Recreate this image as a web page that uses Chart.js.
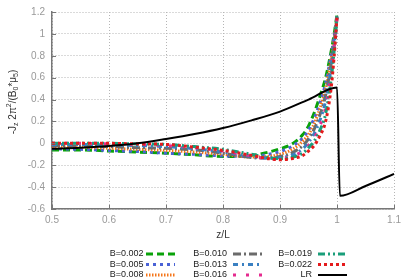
<!DOCTYPE html>
<html>
<head>
<meta charset="utf-8">
<script src="https://cdn.jsdelivr.net/npm/chart.js@4.4.1/dist/chart.umd.min.js"></script>
<style>
  html, body { margin: 0; padding: 0; background: #fff; }
</style>
</head>
<body>
<canvas id="currentChart" width="407" height="280"></canvas>
<script>
// z/L sample points shared by the B curves
const zPoints = [0.5, 0.55, 0.6, 0.65, 0.7, 0.75, 0.8, 0.85, 0.88, 0.9, 0.92, 0.94, 0.95, 0.96, 0.97, 0.98, 0.99, 0.995, 1.0];

const jB002 = [-0.06, -0.06, -0.07, -0.08, -0.09, -0.105, -0.12, -0.11, -0.08, -0.05, -0.01, 0.08, 0.16, 0.28, 0.43, 0.6, 0.85, 1.0, 1.18];
const jB005 = [-0.05, -0.055, -0.065, -0.075, -0.09, -0.1, -0.115, -0.12, -0.1, -0.075, -0.03, 0.05, 0.12, 0.23, 0.37, 0.55, 0.82, 0.98, 1.17];
const jB008 = [-0.03, -0.035, -0.045, -0.055, -0.065, -0.08, -0.1, -0.125, -0.12, -0.1, -0.06, 0.02, 0.08, 0.18, 0.32, 0.5, 0.78, 0.95, 1.16];
const jB010 = [-0.02, -0.025, -0.03, -0.04, -0.045, -0.06, -0.09, -0.13, -0.135, -0.12, -0.09, -0.02, 0.04, 0.13, 0.26, 0.44, 0.74, 0.93, 1.15];
const jB013 = [-0.01, -0.01, -0.015, -0.02, -0.03, -0.05, -0.08, -0.12, -0.135, -0.13, -0.11, -0.05, 0.01, 0.09, 0.21, 0.39, 0.7, 0.9, 1.16];
const jB016 = [0, 0, -0.005, -0.01, -0.02, -0.04, -0.07, -0.115, -0.14, -0.14, -0.12, -0.07, -0.02, 0.05, 0.16, 0.33, 0.65, 0.88, 1.14];
const jB019 = [0, 0, 0, -0.005, -0.01, -0.03, -0.055, -0.1, -0.13, -0.14, -0.13, -0.09, -0.04, 0.02, 0.12, 0.27, 0.6, 0.85, 1.15];
const jB022 = [0, 0, 0, -0.005, -0.01, -0.035, -0.065, -0.11, -0.14, -0.15, -0.14, -0.11, -0.07, -0.02, 0.07, 0.2, 0.52, 0.8, 1.16];

// LR reference curve
const zLR = [0.5, 0.55, 0.6, 0.65, 0.7, 0.75, 0.8, 0.85, 0.9, 0.95, 1.0, 1.005, 1.05, 1.1];
const jLR = [-0.05, -0.04, -0.025, 0.0, 0.04, 0.085, 0.14, 0.21, 0.29, 0.4, 0.51, -0.48, -0.39, -0.28];

const seriesLabels = ['B=0.002', 'B=0.005', 'B=0.008', 'B=0.010', 'B=0.013', 'B=0.016', 'B=0.019', 'B=0.022', 'LR'];
const xTickValues = [0.5, 0.6, 0.7, 0.8, 0.9, 1.0, 1.1];
const yTickValues = [-0.6, -0.4, -0.2, 0, 0.2, 0.4, 0.6, 0.8, 1.0, 1.2];

// line styles (gnuplot-like)
const lineStyles = [
    { color: '#0aa20a', dash: [7, 4] },
    { color: '#4a62d6', dash: [3, 4] },
    { color: '#f5761a', dash: [1.5, 1.5] },
    { color: '#6b6b6b', dash: [8, 3, 2, 3] },
    { color: '#3a80c2', dash: [5, 4, 2, 4] },
    { color: '#e52b8f', dash: [3, 10] },
    { color: '#1a9e7a', dash: [7, 3, 2, 3, 2, 3] },
    { color: '#e41a1c', dash: [3, 3] },
    { color: '#000000', dash: [] }
];

const bSeries = [jB002, jB005, jB008, jB010, jB013, jB016, jB019, jB022];

const datasets = bSeries.map((vals, i) => ({
    label: seriesLabels[i],
    data: zPoints.map((z, k) => ({ x: z, y: vals[k] })),
    borderColor: lineStyles[i].color,
    borderDash: lineStyles[i].dash,
    borderWidth: 3,
    pointRadius: 0,
    cubicInterpolationMode: 'monotone',
    fill: false,
    order: 8 - i
}));
datasets.push({
    label: seriesLabels[8],
    data: zLR.map((z, k) => ({ x: z, y: jLR[k] })),
    borderColor: lineStyles[8].color,
    borderWidth: 2,
    pointRadius: 0,
    cubicInterpolationMode: 'monotone',
    fill: false,
    order: 0
});

const FONT = '"Liberation Sans", Arial, sans-serif';

// draws inward ticks, axis titles and the legend the way gnuplot does
const decorPlugin = {
    id: 'decor',
    afterDraw(chart) {
        const ctx = chart.ctx;
        const xs = chart.scales.x, ys = chart.scales.y;
        const area = chart.chartArea;
        ctx.save();

        // inward tick marks
        ctx.strokeStyle = '#777';
        ctx.lineWidth = 1;
        xs.ticks.forEach(t => {
            const px = Math.round(xs.getPixelForValue(t.value)) + 0.5;
            ctx.beginPath();
            ctx.moveTo(px, area.bottom);
            ctx.lineTo(px, area.bottom - 4);
            ctx.stroke();
        });
        ys.ticks.forEach(t => {
            const py = Math.round(ys.getPixelForValue(t.value)) + 0.5;
            ctx.beginPath();
            ctx.moveTo(area.left, py);
            ctx.lineTo(area.left + 4, py);
            ctx.stroke();
        });

        // x title
        ctx.fillStyle = '#333';
        ctx.font = '10px ' + FONT;
        ctx.textAlign = 'center';
        ctx.textBaseline = 'middle';
        ctx.fillText('z/L', (area.left + area.right) / 2, area.bottom + 26);

        // y title with sub/superscripts
        const parts = [
            ['-J', 0], ['z', 1], [' 2π', 0], ['2', -1], ['/(B', 0], ['0', 1], ['*μ', 0], ['5', 1], [')', 0]
        ];
        const setFont = lvl => { ctx.font = (lvl === 0 ? '10px ' : '7px ') + FONT; };
        let total = 0;
        parts.forEach(p => { setFont(p[1]); total += ctx.measureText(p[0]).width; });
        ctx.save();
        ctx.translate(13, 102);
        ctx.rotate(-Math.PI / 2);
        ctx.textAlign = 'left';
        let cx = -total / 2;
        parts.forEach(p => {
            setFont(p[1]);
            const dy = p[1] === 1 ? 3 : (p[1] === -1 ? -4 : 0);
            ctx.fillText(p[0], cx, dy);
            cx += ctx.measureText(p[0]).width;
        });
        ctx.restore();

        // legend: 3 columns, text right-aligned then line sample
        const textRight = [143.5, 227, 312];
        const sampleStart = [146, 233, 318];
        const sampleLen = 29;
        const rowY = [254, 264.5, 275];
        ctx.font = '9px ' + FONT;
        ctx.textAlign = 'right';
        ctx.textBaseline = 'middle';
        chart.data.datasets.forEach((ds, i) => {
            const col = Math.floor(i / 3), row = i % 3;
            const y = rowY[row];
            ctx.fillStyle = '#222';
            ctx.fillText(ds.label, textRight[col], y);
            ctx.save();
            ctx.strokeStyle = ds.borderColor;
            ctx.lineWidth = ds.borderWidth;
            ctx.setLineDash(ds.borderDash || []);
            ctx.beginPath();
            ctx.moveTo(sampleStart[col], y);
            ctx.lineTo(sampleStart[col] + sampleLen, y);
            ctx.stroke();
            ctx.restore();
        });
        ctx.restore();
    }
};

new Chart(document.getElementById('currentChart'), {
    type: 'line',
    data: { datasets: datasets },
    options: {
        responsive: false,
        animation: false,
        layout: { padding: { left: 0, top: 5, right: 8, bottom: 51 } },
        plugins: {
            legend: { display: false },
            tooltip: { enabled: false }
        },
        scales: {
            x: {
                type: 'linear',
                min: 0.5,
                max: 1.1,
                afterBuildTicks: s => { s.ticks = xTickValues.map(v => ({ value: v })); },
                afterFit: s => { s.height = 20; },
                grid: { color: '#b5b5b5', lineWidth: 1, drawTicks: false },
                border: { display: true, color: '#777', width: 1.5, dash: [1, 2] },
                ticks: {
                    color: '#999',
                    padding: 6,
                    font: { family: FONT, size: 10, lineHeight: 1 },
                    callback: v => String(v)
                }
            },
            y: {
                type: 'linear',
                min: -0.6,
                max: 1.2,
                afterBuildTicks: s => { s.ticks = yTickValues.map(v => ({ value: v })); },
                afterFit: s => { s.width = 52; },
                grid: { color: '#b5b5b5', lineWidth: 1, drawTicks: false },
                border: { display: true, color: '#777', width: 1.5, dash: [1, 2] },
                ticks: {
                    color: '#999',
                    padding: 7,
                    font: { family: FONT, size: 10, lineHeight: 1 },
                    callback: v => String(v)
                }
            }
        }
    },
    plugins: [decorPlugin]
});
</script>
</body>
</html>
